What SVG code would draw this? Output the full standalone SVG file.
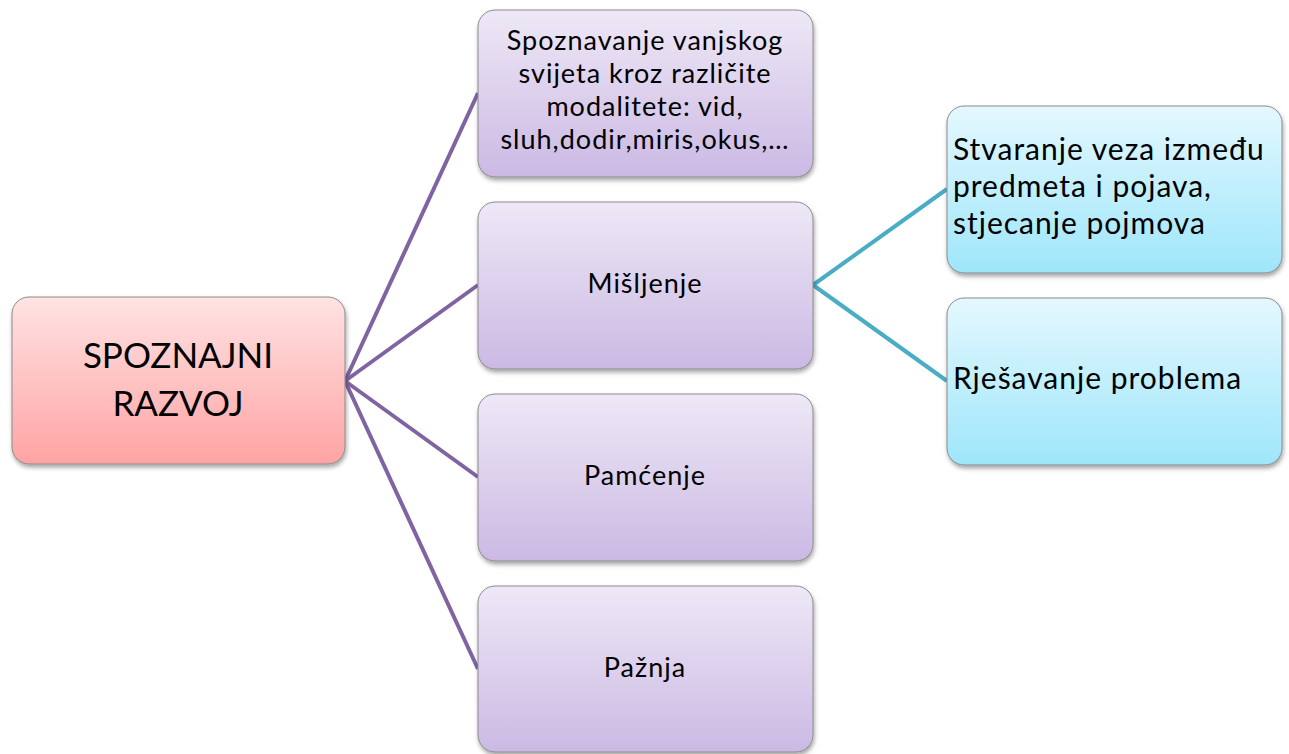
<svg xmlns="http://www.w3.org/2000/svg" width="1289" height="754" viewBox="0 0 1289 754">
<defs>
<linearGradient id="gPink" x1="0" y1="0" x2="0" y2="1"><stop offset="0" stop-color="#FFE3E3"/><stop offset="1" stop-color="#FFA3A3"/></linearGradient>
<linearGradient id="gPurple" x1="0" y1="0" x2="0" y2="1"><stop offset="0" stop-color="#EEE8F6"/><stop offset="1" stop-color="#CBB9E4"/></linearGradient>
<linearGradient id="gBlue" x1="0" y1="0" x2="0" y2="1"><stop offset="0" stop-color="#E4F8FE"/><stop offset="1" stop-color="#9EE6FB"/></linearGradient>
<filter id="sh" x="-10%" y="-10%" width="120%" height="125%"><feDropShadow dx="1" dy="3" stdDeviation="2" flood-color="#000" flood-opacity="0.35"/></filter>
</defs>
<style>
.box{stroke:#8a8a8a;stroke-width:1;filter:url(#sh)}
.t{font-family:Lato,"Open Sans","Liberation Sans",sans-serif;fill:#000}
.c{text-anchor:middle}
.p{font-size:27px;letter-spacing:1px}
.b{font-size:30px;letter-spacing:1px}
.cp{stroke:#8064A2;stroke-width:4;fill:none}
.cb{stroke:#4BACC6;stroke-width:4;fill:none}
</style>
<g id="connectors">
<line class="cp" x1="345" y1="381" x2="478" y2="93"/>
<line class="cp" x1="345" y1="381" x2="478" y2="285"/>
<line class="cp" x1="345" y1="381" x2="478" y2="477"/>
<line class="cp" x1="345" y1="381" x2="478" y2="669"/>
<line class="cb" x1="813" y1="285" x2="947" y2="189"/>
<line class="cb" x1="813" y1="285" x2="947" y2="381"/>
</g>
<g id="root">
<rect class="box" x="12" y="297" width="333" height="167" rx="17" fill="url(#gPink)"/>
<text class="t c" x="178" y="368" font-size="35">SPOZNAJNI</text>
<text class="t c" x="178" y="416" font-size="35">RAZVOJ</text>
</g>
<g id="n1">
<rect class="box" x="478" y="10" width="335" height="167" rx="17" fill="url(#gPurple)"/>
<text class="t c p" x="645" y="50">Spoznavanje vanjskog</text>
<text class="t c p" x="645" y="83">svijeta kroz različite</text>
<text class="t c p" x="645" y="116">modalitete: vid,</text>
<text class="t c p" x="645" y="149">sluh,dodir,miris,okus,…</text>
</g>
<g id="n2">
<rect class="box" x="478" y="202" width="335" height="167" rx="17" fill="url(#gPurple)"/>
<text class="t c p" x="645" y="293">Mišljenje</text>
</g>
<g id="n3">
<rect class="box" x="478" y="394" width="335" height="167" rx="17" fill="url(#gPurple)"/>
<text class="t c p" x="645" y="485">Pamćenje</text>
</g>
<g id="n4">
<rect class="box" x="478" y="586" width="335" height="166" rx="17" fill="url(#gPurple)"/>
<text class="t c p" x="645" y="677">Pažnja</text>
</g>
<g id="n5">
<rect class="box" x="947" y="106" width="335" height="167" rx="17" fill="url(#gBlue)"/>
<text class="t b" x="953" y="160">Stvaranje veza između</text>
<text class="t b" x="953" y="197">predmeta i pojava,</text>
<text class="t b" x="953" y="234">stjecanje pojmova</text>
</g>
<g id="n6">
<rect class="box" x="947" y="298" width="335" height="167" rx="17" fill="url(#gBlue)"/>
<text class="t b" x="953" y="389">Rješavanje problema</text>
</g>
</svg>
